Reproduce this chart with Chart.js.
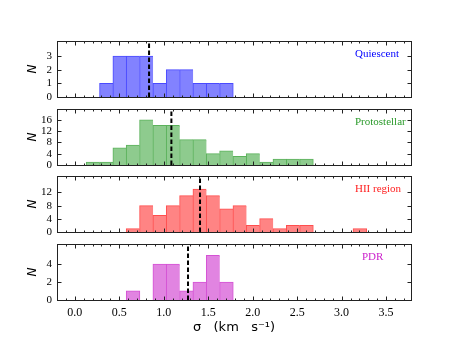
<!DOCTYPE html>
<html><head><meta charset="utf-8">
<script src="https://cdn.jsdelivr.net/npm/chart.js@4/dist/chart.umd.min.js"></script>
<style>
html,body{margin:0;padding:0;background:#fff;}
#wrap{position:relative;width:457px;height:343px;background:#fff;}
canvas{position:absolute;left:0;top:0;}
</style>
</head><body>
<div id="wrap">
<canvas id="c0" width="457" height="343"></canvas>
<canvas id="c1" width="457" height="343"></canvas>
<canvas id="c2" width="457" height="343"></canvas>
<canvas id="c3" width="457" height="343"></canvas>
</div>
<script>
// ---- data ----
const binCenters = [0.205, 0.355, 0.505, 0.655, 0.805, 0.955, 1.105, 1.255, 1.405, 1.555, 1.705,
                    1.855, 2.005, 2.155, 2.305, 2.455, 2.605, 2.755, 2.905, 3.055, 3.205];
const quiescentCounts    = [0, 1, 3, 3, 3, 1, 2, 2, 1, 1, 1, 0, 0, 0, 0, 0, 0, 0, 0, 0, 0];
const protostellarCounts = [1, 1, 6, 7, 16, 14, 14, 9, 9, 4, 5, 3, 4, 1, 2, 2, 2, 0, 0, 0, 0];
const hiiCounts          = [0, 0, 0, 1, 8, 5, 8, 11, 13, 11, 7, 8, 2, 4, 1, 2, 2, 0, 0, 0, 1];
const pdrCounts          = [0, 0, 0, 1, 0, 4, 4, 1, 2, 5, 2, 0, 0, 0, 0, 0, 0, 0, 0, 0, 0];
const panelNames = ['Quiescent', 'Protostellar', 'HII region', 'PDR'];
const medians = [0.835, 1.086, 1.408, 1.273];
const yTicks = [[0, 1, 2, 3], [0, 4, 8, 12, 16], [0, 4, 8, 12], [0, 2, 4]];
const yMax = [4.12, 19.9, 17, 6.28];
const xTicks = [0.0, 0.5, 1.0, 1.5, 2.0, 2.5, 3.0, 3.5];
const xMin = -0.2, xMax = 3.78;
const xTitle = 'σ   (km   s⁻¹)';
const yTitle = 'N';

// ---- styles ----
const allCounts = [quiescentCounts, protostellarCounts, hiiCounts, pdrCounts];
const fills   = ['#8282ff', '#8ecb8e', '#ff8484', '#e184e1'];
const edges   = ['#4a4aff', '#5cb25c', '#ff4e4e', '#d452d4'];
const textCol = ['#0000ff', '#2a9a2a', '#ff2020', '#cc22cc'];
const tops    = [41, 109, 176, 244];
const bottoms = [97, 165, 232, 300];
const labelX  = [355, 355, 355, 362];
const W = 457, H = 343, LEFT = 57, RIGHT = 411;

function framePlugin(i) {
  return {
    id: 'frame' + i,
    afterDatasetsDraw(chart) {
      const ctx = chart.ctx, a = chart.chartArea;
      const xs = chart.scales.x, ys = chart.scales.y;
      ctx.save();
      // median dashed line
      const mx = xs.getPixelForValue(medians[i]);
      ctx.strokeStyle = '#000';
      ctx.lineWidth = 2;
      ctx.setLineDash([4.5, 2.5]);
      ctx.beginPath(); ctx.moveTo(mx, a.bottom); ctx.lineTo(mx, a.top); ctx.stroke();
      ctx.setLineDash([]);
      // frame
      ctx.strokeStyle = '#222';
      ctx.lineWidth = 1;
      const l = Math.round(a.left) + 0.5, r = Math.round(a.right) + 0.5;
      const t = Math.round(a.top) + 0.5, b = Math.round(a.bottom) + 0.5;
      ctx.strokeRect(l, t, r - l, b - t);
      // x ticks (inward, top & bottom)
      ctx.beginPath();
      for (let k = -2; k <= 37; k++) {
        const v = k / 10;
        const px = Math.round(xs.getPixelForValue(v)) + 0.5;
        const len = (k % 5 === 0) ? 4 : 2;
        ctx.moveTo(px, b); ctx.lineTo(px, b - len);
        ctx.moveTo(px, t); ctx.lineTo(px, t + len);
      }
      // y ticks (inward, left & right)
      yTicks[i].forEach(v => {
        const py = Math.round(ys.getPixelForValue(v)) + 0.5;
        ctx.moveTo(l, py); ctx.lineTo(l + 4, py);
        ctx.moveTo(r, py); ctx.lineTo(r - 4, py);
      });
      ctx.stroke();
      // panel label
      ctx.fillStyle = textCol[i];
      ctx.font = '11px "Liberation Serif"';
      ctx.textAlign = 'left';
      ctx.textBaseline = 'middle';
      ctx.fillText(panelNames[i], labelX[i], a.top + 13);
      ctx.restore();
    }
  };
}

for (let i = 0; i < 4; i++) {
  const last = i === 3;
  const counts = allCounts[i];
  const data = binCenters.map((c, j) => ({x: c, y: counts[j] === 0 ? null : counts[j]}));
  new Chart(document.getElementById('c' + i), {
    type: 'bar',
    data: {
      datasets: [{
        data: data,
        backgroundColor: fills[i],
        borderColor: edges[i],
        borderWidth: c => {
          const j = c.dataIndex;
          const nextEmpty = !(counts[j + 1] > 0);
          return {top: 1, left: 1, bottom: 0, right: nextEmpty ? 1 : 0};
        },
        borderSkipped: false,
        inflateAmount: 0.5,
        barPercentage: 1.0,
        categoryPercentage: 1.0
      }]
    },
    options: {
      responsive: false,
      animation: false,
      devicePixelRatio: 1,
      layout: {padding: {left: 0, top: tops[i], right: W - RIGHT, bottom: last ? 0 : H - bottoms[i]}},
      plugins: {legend: {display: false}, tooltip: {enabled: false}},
      scales: {
        x: {
          type: 'linear',
          min: xMin, max: xMax,
          offset: false,
          display: last,
          grid: {display: false, drawTicks: false},
          border: {display: false},
          afterBuildTicks: s => { s.ticks = xTicks.map(v => ({value: v})); },
          afterFit: s => { s.height = last ? H - bottoms[i] : 0; },
          ticks: {
            padding: 6,
            color: '#000',
            font: {family: '"Liberation Serif"', size: 12},
            maxRotation: 0,
            autoSkip: false,
            callback: v => Number(v).toFixed(1)
          },
          title: {
            display: true,
            text: xTitle,
            color: '#000',
            font: {family: '"DejaVu Sans"', size: 13},
            padding: {top: 0, bottom: 8}
          }
        },
        y: {
          type: 'linear',
          min: 0, max: yMax[i],
          grid: {display: false, drawTicks: false},
          border: {display: false},
          afterBuildTicks: s => { s.ticks = yTicks[i].map(v => ({value: v})); },
          afterFit: s => { s.width = LEFT; },
          ticks: {
            padding: 5,
            color: '#000',
            font: {family: '"Liberation Serif"', size: 11},
            autoSkip: false
          },
          title: {
            display: true,
            text: yTitle,
            color: '#000',
            font: {family: '"DejaVu Sans"', size: 12, style: 'italic'},
            padding: {top: 26, bottom: 0}
          }
        }
      }
    },
    plugins: [framePlugin(i)]
  });
}
</script>
</body></html>
